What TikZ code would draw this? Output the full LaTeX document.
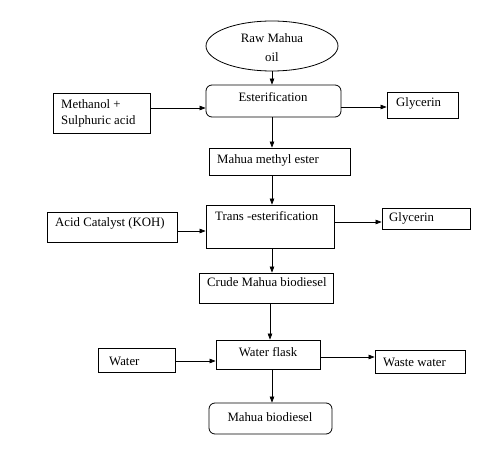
\documentclass[tikz,border=0pt]{standalone}
\usepackage{fontspec}
\setmainfont{Liberation Serif}
\usetikzlibrary{arrows.meta,shapes.geometric}
\begin{document}
\begin{tikzpicture}[x=1pt,y=-1pt,
  box/.style={draw,line width=0.8pt,inner sep=0pt},
  rbox/.style={box,rounded corners=6pt},
  txt/.style={inner sep=0pt,font=\fontsize{12.8}{15}\selectfont},
  ltxt/.style={txt,anchor=west},
  arr/.style={line width=0.7pt,-{Triangle[length=6pt,width=4.5pt]}}]
\useasboundingbox[fill=white] (0,0) rectangle (491,452);
% boxes
\node[box,ellipse,minimum width=132,minimum height=50] (oil) at (272,46) {};
\node[box,minimum width=97,minimum height=40] (meth) at (101.5,113) {};
\node[rbox,minimum width=135,minimum height=32] (ester) at (273.5,101) {};
\node[box,minimum width=71,minimum height=26] (gly1) at (422.5,105) {};
\node[box,minimum width=141,minimum height=27] (mme) at (279.5,161.5) {};
\node[box,minimum width=130,minimum height=30] (acid) at (112,227) {};
\node[box,minimum width=128,minimum height=43] (trans) at (270,226.5) {};
\node[box,minimum width=88,minimum height=21] (gly2) at (426,218.5) {};
\node[box,minimum width=134,minimum height=30] (crude) at (266,288) {};
\node[box,minimum width=77,minimum height=24] (water) at (136.5,360) {};
\node[box,minimum width=104,minimum height=29] (flask) at (268,354.5) {};
\node[box,minimum width=90,minimum height=23] (waste) at (420,361.5) {};
\node[rbox,minimum width=123,minimum height=31] (bio) at (270.5,418.5) {};
% texts
\node[txt] (t1a) at (272,38) {Raw Mahua};
\node[txt] (t1b) at (272,57) {oil};
\node[txt] (t2) at (273,97) {Esterification};
\node[ltxt] (t3a) at (61,104) {Methanol +};
\node[ltxt] (t3b) at (61,121) {Sulphuric acid};
\node[ltxt] (t4) at (396,103) {Glycerin};
\node[ltxt] (t5) at (217,160) {Mahua methyl ester};
\node[ltxt] (t6) at (55,223) {Acid Catalyst (KOH)};
\node[ltxt] (t7) at (215,216) {Trans -esterification};
\node[ltxt] (t8) at (389,218) {Glycerin};
\node[ltxt] (t9) at (207,282) {Crude Mahua biodiesel};
\node[ltxt] (t10) at (109,361) {Water};
\node[txt] (t11) at (268,352) {Water flask};
\node[ltxt] (t12) at (383,362) {Waste water};
\node[txt] (t13) at (270,417) {Mahua biodiesel};
% arrows
\draw[arr] (oil.south -| 272,0) -- (ester.north -| 272,0);
\draw[arr] (ester.south -| 272,0) -- (mme.north -| 272,0);
\draw[arr] (mme.south -| 272,0) -- (trans.north -| 272,0);
\draw[arr] (trans.south -| 272,0) -- (crude.north -| 272,0);
\draw[arr] (crude.south -| 270,0) -- (flask.north -| 270,0);
\draw[arr] (flask.south -| 272,0) -- (bio.north -| 272,0);
\draw[arr] (meth.east |- 0,108) -- (ester.west |- 0,108);
\draw[arr] (ester.east |- 0,107) -- (gly1.west |- 0,107);
\draw[arr] (acid.east |- 0,231) -- (trans.west |- 0,231);
\draw[arr] (trans.east |- 0,222) -- (gly2.west |- 0,222);
\draw[arr] (water.east |- 0,361) -- (flask.west |- 0,361);
\draw[arr] (flask.east |- 0,357) -- (waste.west |- 0,357);
\end{tikzpicture}
\end{document}
